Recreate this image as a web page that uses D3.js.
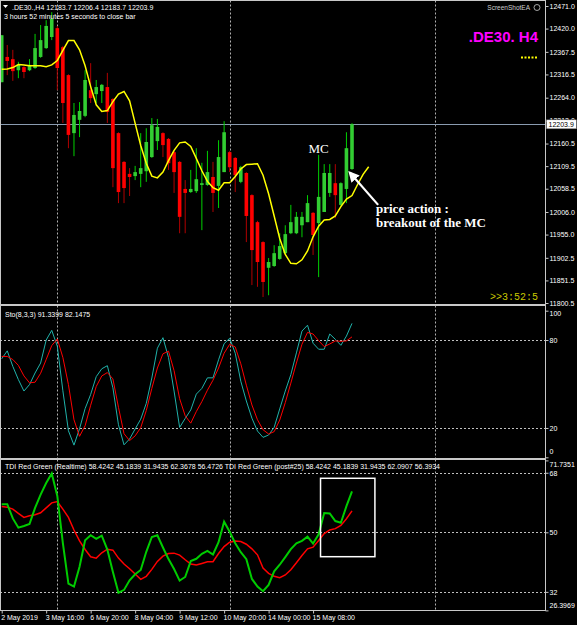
<!DOCTYPE html>
<html>
<head>
<meta charset="utf-8">
<script src="https://cdn.jsdelivr.net/npm/d3@7"></script>
<style>
  body { margin: 0; background: #000; }
  svg { display: block; }
  text { font-family: "Liberation Sans", Arial, sans-serif; }
</style>
</head>
<body>
<div class="chart"></div>
<script>
// ---- data ----
var barOpen = [12299, 12356, 12351, 12326, 12333, 12326, 12331, 12356, 12376, 12401, 12421, 12378, 12315, 12184, 12214, 12223, 12281, 12272, 12279, 12288, 12261, 12184, 12119, 12092, 12087, 12092, 12098, 12130, 12166, 12184, 12171, 12141, 12119, 12058, 12051, 12053, 12067, 12067, 12085, 12065, 12096, 12141, 12128, 12074, 12094, 12044, 11983, 11938, 11880, 11884, 11900, 11913, 11958, 11958, 11976, 11983, 12004, 11981, 12006, 12049, 12071, 12022, 12058, 12103];
var barHigh = [12405, 12383, 12372, 12345, 12335, 12351, 12408, 12428, 12439, 12457, 12426, 12381, 12317, 12252, 12254, 12326, 12342, 12304, 12295, 12320, 12263, 12186, 12121, 12105, 12110, 12184, 12195, 12218, 12216, 12186, 12173, 12144, 12121, 12078, 12101, 12150, 12117, 12144, 12119, 12168, 12211, 12144, 12130, 12110, 12096, 12046, 11986, 11940, 11902, 11931, 11958, 11976, 12022, 12006, 12006, 12044, 12006, 12135, 12114, 12114, 12114, 12073, 12186, 12206.4];
var barLow = [12299, 12315, 12302, 12308, 12308, 12324, 12329, 12354, 12374, 12394, 12281, 12207, 12150, 12132, 12175, 12220, 12252, 12252, 12252, 12207, 12062, 12026, 12026, 12042, 12078, 12062, 12074, 12128, 12146, 12130, 12101, 12049, 11958, 11958, 12049, 12049, 11965, 12065, 12006, 12015, 12096, 12096, 12051, 12071, 11938, 11841, 11837, 11814, 11818, 11882, 11898, 11911, 11956, 11956, 11949, 11983, 11909, 11859, 12006, 12040, 11992, 12020, 12026, 12101];
var barClose = [12405, 12347, 12324, 12338, 12322, 12338, 12376, 12394, 12426, 12442, 12331, 12252, 12180, 12225, 12234, 12304, 12263, 12288, 12293, 12232, 12105, 12051, 12060, 12085, 12096, 12105, 12164, 12202, 12198, 12157, 12116, 12096, 11995, 12049, 12058, 12080, 12071, 12096, 12049, 12130, 12186, 12107, 12089, 12107, 11997, 11920, 11893, 11848, 11893, 11913, 11929, 11956, 11983, 11995, 11995, 12026, 11954, 12040, 12094, 12094, 12044, 12071, 12150, 12203.9];

// moving average, shifted forward 3 bars (so 67 points)
var maValues = [12328, 12329, 12332, 12339, 12338, 12336, 12336, 12336, 12334, 12338, 12348, 12371, 12393, 12393, 12372, 12336, 12289, 12248, 12233, 12235, 12255, 12272, 12278, 12257, 12206, 12156, 12116, 12087, 12083, 12096, 12122, 12145, 12162, 12164, 12154, 12127, 12099, 12075, 12061, 12055, 12072, 12072, 12086, 12103, 12113, 12114, 12115, 12089, 12047, 11997, 11946, 11910, 11890, 11889, 11898, 11918, 11950, 11974, 11988, 11989, 11997, 12018, 12035, 12043, 12068, 12091, 12108];

var stoMain = [67.2, 72.6, 62, 53, 45.2, 49.6, 57.5, 64.3, 80, 86.6, 75.8, 45.4, 18.1, 8.3, 19.5, 33.2, 42.9, 55, 60.4, 62.5, 47.4, 22.2, 8.5, 12.5, 19.3, 26, 36.8, 54.1, 74.4, 81.6, 68.1, 45.2, 20.4, 26.5, 32.3, 43.1, 47, 54.2, 54.2, 66.5, 77.5, 81.2, 71, 51.9, 38.4, 26.7, 17.9, 13.6, 15.2, 20.4, 33, 45.2, 56.4, 71.2, 86.1, 90.1, 77.8, 73.7, 73.7, 84.1, 80.5, 76.4, 82.7, 91.34];
var stoSignal = [68.8, 68.8, 66.7, 62.7, 55.5, 50.8, 51.2, 57.3, 66.7, 76.2, 80.7, 68.1, 49.6, 25.6, 14.3, 21.5, 35.5, 48.3, 55.5, 57.8, 53.5, 34.1, 16.1, 11.4, 14.6, 20.2, 31.9, 47, 60.9, 70.6, 72.4, 59.1, 40, 28.3, 23.3, 31.2, 38, 45.8, 52.6, 60.9, 71, 77.1, 75.3, 63.8, 49.2, 35.7, 25.6, 18.8, 15.9, 17.5, 25.4, 37.3, 50.6, 64.3, 77.1, 85.2, 84.1, 79.6, 75.5, 77.3, 79.4, 79.1, 79.4, 82.15];

var tdiPrice = [58.5, 58.5, 54.2, 51.4, 51.9, 52.5, 57.4, 61.4, 64.9, 67.8, 61, 46.7, 34.5, 33.6, 39.6, 47.6, 49.1, 48, 49, 44.8, 38, 31.7, 32.6, 35.5, 37.3, 38.6, 44.1, 48.6, 49.1, 45.4, 41.9, 38.9, 35.4, 36.5, 41.3, 42, 43.5, 44.4, 43.3, 47, 53.2, 50.2, 46.7, 44, 41.9, 35.9, 33.6, 32.2, 34.1, 38.2, 40.2, 42.5, 44.9, 46.7, 47.4, 48.7, 46.6, 49.4, 55.8, 55.7, 53.4, 52.9, 57.9, 62.37];
var tdiSignal = [57.8, 57.6, 57, 55.7, 54.5, 55, 55.3, 55.9, 57.4, 58.9, 59.3, 57, 54.5, 50.7, 47.4, 44.8, 42.6, 42.2, 43.8, 44.9, 44.6, 42.2, 40.4, 39, 37.4, 35.8, 36.7, 38.8, 41.2, 42.8, 43.6, 43.7, 43.1, 41.7, 40.4, 40.1, 40.6, 41.1, 41.1, 43.6, 45.7, 47, 47.4, 47.2, 46.4, 45, 43.2, 39.2, 37.6, 36.7, 36.3, 37.1, 38.7, 40.8, 43, 45, 45.5, 47.5, 49.6, 50.7, 51.1, 52.1, 54.1, 56.47];

var timeLabels = ['2 May 2019', '3 May 16:00', '6 May 20:00', '8 May 04:00', '9 May 12:00', '10 May 20:00', '14 May 00:00', '15 May 08:00'];
var timeLabelBars = [0, 8, 16, 24, 32, 40, 48, 56];
var gridBars = [10, 41, 78];

var priceTicks = [12471.0, 12420.0, 12367.5, 12316.5, 12264.0, 12212.0, 12160.5, 12109.5, 12058.5, 12006.0, 11955.0, 11902.5, 11851.5, 11800.5];
var stoTicks = [100, 80, 20, 0];
var stoLevels = [80, 20];
var tdiTicks = [71.7351, 68, 50, 32, 26.3969];
var tdiLevels = [68, 50, 32];
var lastPrice = 12203.9;

// ---- layout ----
var width = 577, height = 625;
var right = 545.5;
var mainPanel = { top: 0.5, bottom: 304.5 };
var stoPanel = { top: 305.5, bottom: 458.5 };
var tdiPanel = { top: 459.5, bottom: 610.5 };

var svg = d3.select('.chart').append('svg')
  .attr('width', width)
  .attr('height', height)
  .style('background', '#000');

var x = d3.scaleLinear().domain([0, 63]).range([1.7, 352]);
var yMain = d3.scaleLinear().domain([11800.5, 12471]).range([303, 6]);
var ySto = d3.scaleLinear().domain([0, 100]).range([457.3, 310.7]);
var yTdi = d3.scaleLinear().domain([26.3969, 71.7351]).range([610.4, 460.4]);

var defs = svg.append('defs');
[['clipMain', mainPanel], ['clipSto', stoPanel], ['clipTdi', tdiPanel]].forEach(function(c) {
  defs.append('clipPath').attr('id', c[0]).append('rect')
    .attr('x', 0.5).attr('y', c[1].top)
    .attr('width', right - 0.5).attr('height', c[1].bottom - c[1].top);
});
defs.append('marker')
  .attr('id', 'arrowHead')
  .attr('viewBox', '0 0 10 10')
  .attr('refX', 8).attr('refY', 5)
  .attr('markerWidth', 5).attr('markerHeight', 5)
  .attr('markerUnits', 'strokeWidth')
  .attr('orient', 'auto')
  .append('path').attr('d', 'M0,0 L10,5 L0,10 z').attr('fill', '#fff');

// vertical dotted grid in every panel
[mainPanel, stoPanel, tdiPanel].forEach(function(p) {
  svg.append('g').selectAll('line')
    .data(gridBars).enter().append('line')
    .attr('x1', function(d) { return Math.round(x(d)) + 0.5; })
    .attr('x2', function(d) { return Math.round(x(d)) + 0.5; })
    .attr('y1', p.top).attr('y2', p.bottom)
    .attr('stroke', '#b0b0b0')
    .attr('stroke-dasharray', '2,2');
});

// ---- main panel ----
var main = svg.append('g').attr('clip-path', 'url(#clipMain)');

main.append('line')
  .attr('x1', 0).attr('x2', right)
  .attr('y1', Math.round(yMain(lastPrice)) + 0.5)
  .attr('y2', Math.round(yMain(lastPrice)) + 0.5)
  .attr('stroke', '#8a9bb0');

var bars = d3.range(barOpen.length);

main.append('g').selectAll('line')
  .data(bars).enter().append('line')
  .attr('x1', function(i) { return x(i); })
  .attr('x2', function(i) { return x(i); })
  .attr('y1', function(i) { return yMain(barHigh[i]); })
  .attr('y2', function(i) { return yMain(barLow[i]); })
  .attr('stroke', function(i) { return barClose[i] >= barOpen[i] ? '#00d000' : '#b00000'; })
  .attr('stroke-width', 1);

main.append('g').selectAll('rect')
  .data(bars).enter().append('rect')
  .attr('x', function(i) { return x(i) - 1.8; })
  .attr('width', 3.6)
  .attr('y', function(i) { return yMain(Math.max(barOpen[i], barClose[i])); })
  .attr('height', function(i) { return Math.max(1, Math.abs(yMain(barOpen[i]) - yMain(barClose[i]))); })
  .attr('fill', function(i) { return barClose[i] >= barOpen[i] ? '#32cd32' : '#ff0000'; });

main.append('path')
  .datum(maValues)
  .attr('fill', 'none')
  .attr('stroke', '#ffff00')
  .attr('stroke-width', 1.5)
  .attr('d', d3.line().x(function(d, i) { return x(i); }).y(function(d) { return yMain(d); }));

// annotations
main.append('text')
  .attr('x', x(57)).attr('y', yMain(12139))
  .attr('text-anchor', 'middle')
  .style('font-family', '"Liberation Serif", "Times New Roman", serif')
  .style('font-size', '13px')
  .attr('fill', '#fff')
  .text('MC');

main.append('line')
  .attr('x1', x(67.7)).attr('y1', yMain(12022))
  .attr('x2', x(62.6)).attr('y2', yMain(12095))
  .attr('stroke', '#fff').attr('stroke-width', 2.2)
  .attr('marker-end', 'url(#arrowHead)');

main.append('text')
  .attr('x', 376).attr('y', yMain(12004))
  .style('font-family', '"Liberation Serif", "Times New Roman", serif')
  .style('font-size', '13px').style('font-weight', 'bold')
  .attr('fill', '#fff')
  .text('price action :');
main.append('text')
  .attr('x', 376).attr('y', yMain(11971))
  .style('font-family', '"Liberation Serif", "Times New Roman", serif')
  .style('font-size', '13px').style('font-weight', 'bold')
  .attr('fill', '#fff')
  .text('breakout of the MC');

// header texts
svg.append('path').attr('d', 'M3,5 L8,5 L5.5,8 z').attr('fill', '#fff');
svg.append('text').attr('x', 12).attr('y', 10)
  .style('font-size', '7px').attr('fill', '#fff')
  .text('.DE30.,H4  12183.7 12206.4 12183.7 12203.9');
svg.append('text').attr('x', 4).attr('y', 19)
  .style('font-size', '7px').attr('fill', '#fff')
  .text('3 hours 52 minutes 5 seconds to close bar');

svg.append('text').attr('x', 530).attr('y', 10)
  .attr('text-anchor', 'end')
  .style('font-size', '6.5px').attr('fill', '#ccc')
  .text('ScreenShotEA');
svg.append('circle').attr('cx', 537).attr('cy', 7.5).attr('r', 3)
  .attr('fill', 'none').attr('stroke', '#ccc').attr('stroke-width', 0.8);

svg.append('text').attr('x', 538).attr('y', 42)
  .attr('text-anchor', 'end')
  .style('font-size', '15px').style('font-weight', 'bold')
  .attr('fill', '#ff00ff')
  .text('.DE30. H4');
svg.append('line').attr('x1', 521).attr('x2', 538).attr('y1', 57.5).attr('y2', 57.5)
  .attr('stroke', '#ffff00').attr('stroke-width', 2).attr('stroke-dasharray', '2,1.5');
svg.append('text').attr('x', 538).attr('y', 300)
  .attr('text-anchor', 'end')
  .style('font-family', '"Liberation Mono", monospace')
  .style('font-size', '10px').attr('fill', '#c8c800')
  .text('>>3:52:5');

// ---- stochastic panel ----
var sto = svg.append('g').attr('clip-path', 'url(#clipSto)');
sto.append('g').selectAll('line')
  .data(stoLevels).enter().append('line')
  .attr('x1', 0).attr('x2', right)
  .attr('y1', function(d) { return Math.round(ySto(d)) + 0.5; })
  .attr('y2', function(d) { return Math.round(ySto(d)) + 0.5; })
  .attr('stroke', '#c0c0c0').attr('stroke-dasharray', '2,2');

var lineSto = d3.line().x(function(d, i) { return x(i); }).y(function(d) { return ySto(d); });
sto.append('path').datum(stoMain)
  .attr('fill', 'none').attr('stroke', '#20b2aa').attr('stroke-width', 1)
  .attr('d', lineSto);
sto.append('path').datum(stoSignal)
  .attr('fill', 'none').attr('stroke', '#ff0000').attr('stroke-width', 1)
  .attr('d', lineSto);
svg.append('text').attr('x', 5).attr('y', 317)
  .style('font-size', '7px').attr('fill', '#fff')
  .text('Sto(8,3,3) 91.3399 82.1475');

// ---- TDI panel ----
var tdi = svg.append('g').attr('clip-path', 'url(#clipTdi)');
tdi.append('g').selectAll('line')
  .data(tdiLevels).enter().append('line')
  .attr('x1', 0).attr('x2', right)
  .attr('y1', function(d) { return Math.round(yTdi(d)) + 0.5; })
  .attr('y2', function(d) { return Math.round(yTdi(d)) + 0.5; })
  .attr('stroke', '#c0c0c0').attr('stroke-dasharray', '2,2');

var lineTdi = d3.line().x(function(d, i) { return x(i); }).y(function(d) { return yTdi(d); });
tdi.append('path').datum(tdiSignal)
  .attr('fill', 'none').attr('stroke', '#ff0000').attr('stroke-width', 1.5)
  .attr('d', lineTdi);
tdi.append('path').datum(tdiPrice)
  .attr('fill', 'none').attr('stroke', '#00cc00').attr('stroke-width', 2)
  .attr('d', lineTdi);

tdi.append('rect')
  .attr('x', x(57.34)).attr('y', yTdi(66.33))
  .attr('width', x(67.12) - x(57.34))
  .attr('height', yTdi(42.63) - yTdi(66.33))
  .attr('fill', 'none').attr('stroke', '#fff').attr('stroke-width', 1.5);

svg.append('text').attr('x', 5).attr('y', 469)
  .style('font-size', '7px').attr('fill', '#fff')
  .text('TDI Red Green (Realtime) 58.4242 45.1839 31.9435 62.3678 56.4726  TDI Red Green (post#25) 58.4242 45.1839 31.9435 62.0907 56.3934');

// ---- frames ----
[mainPanel, stoPanel, tdiPanel].forEach(function(p) {
  svg.append('rect')
    .attr('x', 0.5).attr('y', p.top)
    .attr('width', right - 0.5).attr('height', p.bottom - p.top)
    .attr('fill', 'none').attr('stroke', '#c8c8c8');
});

// ---- axes ----
function styleAxis(g) {
  g.select('.domain').remove();
  g.selectAll('line').attr('stroke', '#c8c8c8');
  g.selectAll('text').attr('fill', '#fff')
    .style('font-size', '7px')
    .style('font-family', '"Liberation Sans", Arial, sans-serif');
}

// top/bottom window labels sit inside the panel, like the terminal draws them
function nudgeEnds(g, topValue, bottomValue, topShift, bottomShift) {
  g.selectAll('.tick text').attr('dy', function(d) {
    if (d === topValue) return (0.32 + topShift) + 'em';
    if (d === bottomValue) return (0.32 - bottomShift) + 'em';
    return '0.32em';
  });
}

svg.append('g')
  .attr('transform', 'translate(' + right + ',0)')
  .call(d3.axisRight(yMain).tickValues(priceTicks).tickFormat(d3.format('.1f')).tickSize(3).tickPadding(1))
  .call(styleAxis);

svg.append('g')
  .attr('transform', 'translate(' + right + ',0)')
  .call(d3.axisRight(ySto).tickValues(stoTicks).tickSize(3).tickPadding(1))
  .call(styleAxis)
  .call(nudgeEnds, 100, 0, 0.33, 0.93);

svg.append('g')
  .attr('transform', 'translate(' + right + ',0)')
  .call(d3.axisRight(yTdi).tickValues(tdiTicks).tickFormat(function(d) { return String(d); }).tickSize(3).tickPadding(1))
  .call(styleAxis)
  .call(nudgeEnds, 71.7351, 26.3969, 0.51, 0.77);

// current price box
var lp = svg.append('g').attr('transform', 'translate(' + (right + 1) + ',' + yMain(lastPrice) + ')');
lp.append('rect').attr('x', 0).attr('y', -4.5).attr('width', 30).attr('height', 9)
  .attr('fill', '#fff').attr('stroke', '#555').attr('stroke-width', 0.5);
lp.append('text').attr('x', 2).attr('y', 2.5)
  .style('font-size', '7px').attr('fill', '#000')
  .text(d3.format('.1f')(lastPrice));

var timeAxis = svg.append('g')
  .attr('transform', 'translate(0,' + tdiPanel.bottom + ')')
  .call(d3.axisBottom(x).tickValues(timeLabelBars)
    .tickFormat(function(d, i) { return timeLabels[i]; }).tickSize(3).tickPadding(2))
  .call(styleAxis);
timeAxis.selectAll('text').attr('text-anchor', 'start').attr('dx', '-1');
</script>
</body>
</html>
